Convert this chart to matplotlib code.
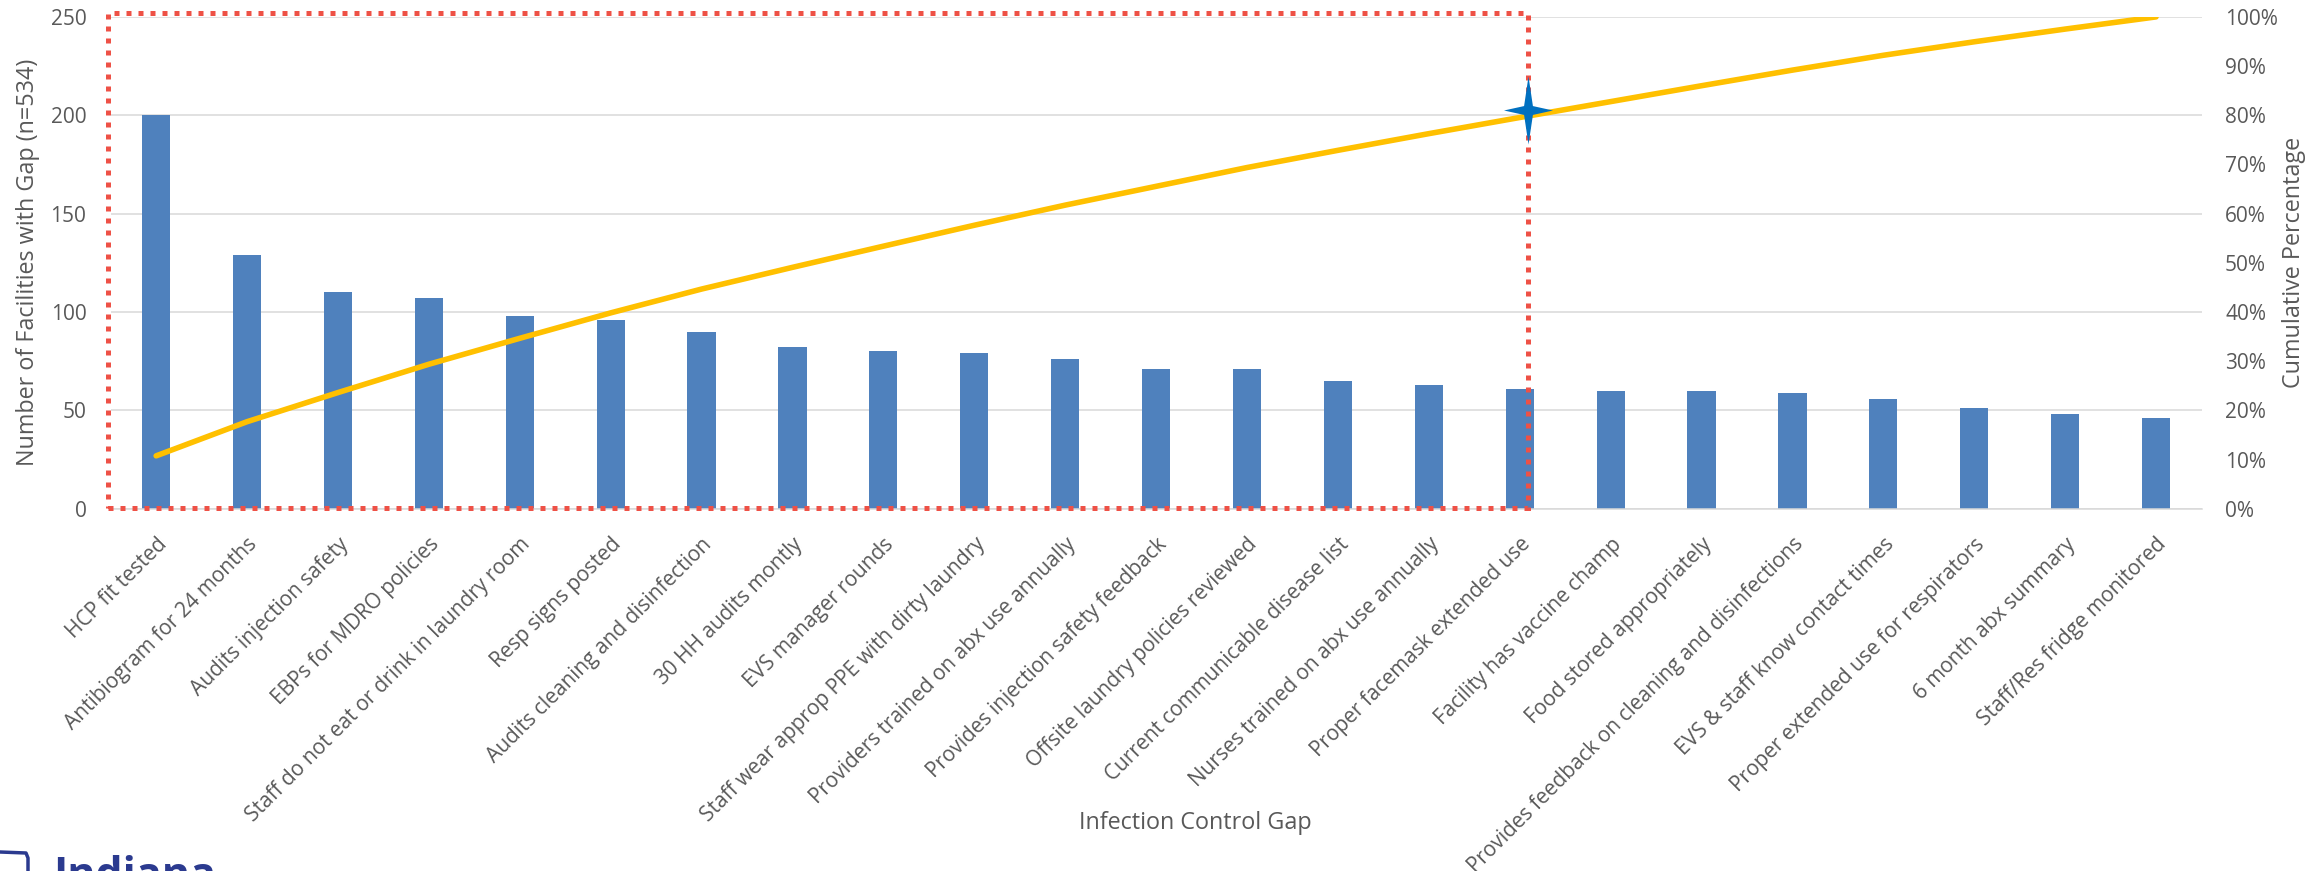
import matplotlib
matplotlib.use("Agg")
import matplotlib.pyplot as plt
import numpy as np
from matplotlib.path import Path
from matplotlib.patches import Rectangle
from matplotlib.lines import Line2D
from matplotlib.ticker import MultipleLocator, PercentFormatter

# infection control gaps, sorted by number of facilities
gaps = [
    "HCP fit tested",
    "Antibiogram for 24 months",
    "Audits injection safety",
    "EBPs for MDRO policies",
    "Staff do not eat or drink in laundry room",
    "Resp signs posted",
    "Audits cleaning and disinfection",
    "30 HH audits montly",
    "EVS manager rounds",
    "Staff wear approp PPE with dirty laundry",
    "Providers trained on abx use annually",
    "Provides injection safety feedback",
    "Offsite laundry policies reviewed",
    "Current communicable disease list",
    "Nurses trained on abx use annually",
    "Proper facemask extended use",
    "Facility has vaccine champ",
    "Food stored appropriately",
    "Provides feedback on cleaning and disinfections",
    "EVS & staff know contact times",
    "Proper extended use for respirators",
    "6 month abx summary",
    "Staff/Res fridge monitored",
]
facilities = [200, 129, 110, 107, 98, 96, 90, 82, 80, 79, 76, 71,
              71, 65, 63, 61, 60, 60, 59, 56, 51, 48, 46]

cutoff_idx = 15      # last gap inside the 80% group
cutoff_pct = 81

cum_pct = np.cumsum(facilities) / np.sum(facilities) * 100

TXT = "#595959"
GRID = "#D9D9D9"
plt.rcParams["font.family"] = ["Open Sans", "DejaVu Sans"]

W, H = 2318, 871
fig = plt.figure(figsize=(W / 100, H / 100), dpi=100)
ax = fig.add_axes([110.7 / W, 1 - 508.8 / H, 2090.8 / W, 491.9 / H])

x = np.arange(len(gaps))
half = 0.155
ax.bar(x, facilities, width=2 * half, color="#4F81BD", zorder=2)
ax.set_xlim(-0.5, len(gaps) - 0.5)
ax.set_ylim(0, 250)
ax.yaxis.set_major_locator(MultipleLocator(50))
ax.grid(axis="y", color=GRID, lw=1.1)
ax.set_axisbelow(True)
for s in ["top", "right", "left"]:
    ax.spines[s].set_visible(False)
ax.spines["bottom"].set_color(GRID)
ax.spines["bottom"].set_linewidth(1.1)
ax.tick_params(length=0, labelsize=15, labelcolor=TXT)
ax.tick_params(axis="y", pad=17.5)
ax.tick_params(axis="x", pad=18)
ax.set_xticks(x)
ax.set_xticklabels(gaps, rotation=45, ha="right", va="top", rotation_mode="anchor")

ax.set_ylabel("Number of Facilities with Gap (n=534)", fontsize=16.8, color=TXT, va="center")
ax.yaxis.set_label_coords(-0.0397, 0.5)
ax.set_xlabel("Infection Control Gap", fontsize=16.8, color=TXT, va="center")
ax.xaxis.set_label_coords(0.5186, -0.6388)

# cumulative percentage on the secondary axis
ax2 = ax.twinx()
ax2.plot(x, cum_pct, color="#FFC000", lw=4, solid_capstyle="round", zorder=3)
ax2.set_ylim(0, 100)
ax2.yaxis.set_major_locator(MultipleLocator(10))
ax2.yaxis.set_major_formatter(PercentFormatter(100, decimals=0))
for s in ax2.spines.values():
    s.set_visible(False)
ax2.tick_params(length=0, labelsize=15, labelcolor=TXT, pad=17)
ax2.set_ylabel("Cumulative Percentage", fontsize=16.8, color=TXT, va="center")
ax2.yaxis.set_label_coords(1.0441, 0.5)

# dotted box around the gaps making up the first 80%
x0, x1 = -0.535, cutoff_idx + half - 0.065
box = Rectangle((x0, 0.5), x1 - x0, 251.6,
                transform=ax.transData, fill=False, ec="#EE5146", lw=3.6,
                linestyle=(0, (1, 1.4)), clip_on=False, zorder=4)
ax2.add_patch(box)

# four-point star at the 80% cutoff
w, r = 0.72, 0.13
star = Path([(0, 1), (r, r), (w, 0), (r, -r), (0, -1), (-r, -r), (-w, 0), (-r, r), (0, 1)],
            [Path.MOVETO] + [Path.LINETO] * 7 + [Path.CLOSEPOLY])
ax2.plot(x1, cutoff_pct, marker=star, ms=49, color="#0070C0",
         mew=0, clip_on=False, zorder=5)

# logo at the bottom left edge
navy = "#2B3A8F"
fig.text(53 / W, 1 - 888 / H, "Indiana", fontsize=31, fontweight="bold",
         color=navy, va="baseline", ha="left")
fig.add_artist(Line2D([0, 26 / W, 28 / W, 28 / W],
                      [1 - 852 / H, 1 - 853 / H, 1 - 858 / H, -0.02],
                      color=navy, lw=2.5, solid_joinstyle="round"))

fig.savefig("out.png", dpi=100)
